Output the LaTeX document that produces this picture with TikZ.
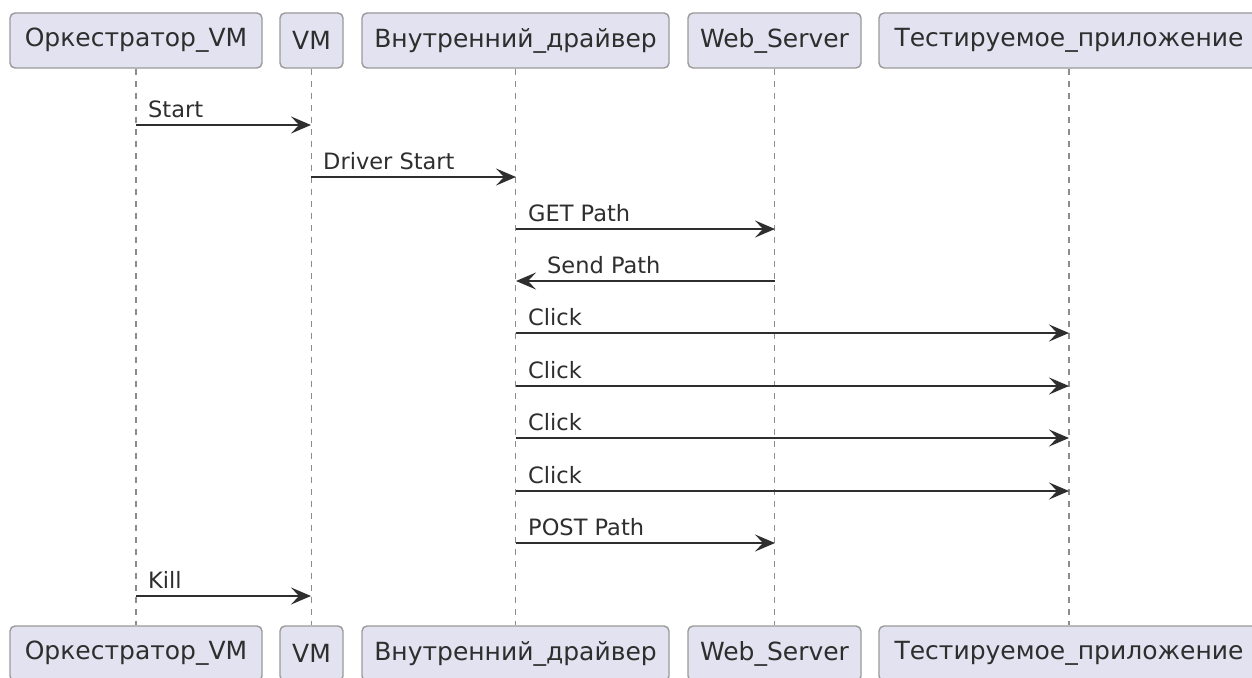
\documentclass[tikz,border=0pt]{standalone}
\usepackage{fontspec}
\setmainfont{DejaVu Sans}
\usetikzlibrary{arrows.meta}
\definecolor{boxfill}{HTML}{E2E2F0}
\definecolor{boxdraw}{HTML}{9A9A9A}
\definecolor{ink}{HTML}{2E2E2E}
\definecolor{lifeln}{HTML}{8C8C8C}
\tikzset{
  part/.style={draw=boxdraw, line width=1.4pt, fill=boxfill, rounded corners=5pt,
    minimum height=55pt, inner xsep=0pt, text=ink, font=\fontsize{25}{30}\selectfont},
  life/.style={draw=lifeln, line width=1.4pt, dash pattern=on 6pt off 6pt},
  msg/.style={draw=ink, line width=1.7pt, -{Stealth[length=20pt, width=17pt, inset=8pt]}},
  lbl/.style={text=ink, inner sep=0pt, anchor=base west, font=\fontsize{22.5}{27}\selectfont}
}
\begin{document}
\begin{tikzpicture}[x=1pt,y=1pt]
\useasboundingbox[fill=white] (0,0) rectangle (1252,-677);
% top participants
\node[part, minimum width=252pt] (tO) at (136,-40.5) {Оркестратор\_VM};
\node[part, minimum width=63pt]  (tV) at (311.5,-40.5) {VM};
\node[part, minimum width=307pt] (tD) at (515.5,-40.5) {Внутренний\_драйвер};
\node[part, minimum width=173pt] (tW) at (774.5,-40.5) {Web\_Server};
\node[part, minimum width=380pt] (tT) at (1069,-40.5) {Тестируемое\_приложение};
% bottom participants
\node[part, minimum width=252pt] (bO) at (136,-653.5) {Оркестратор\_VM};
\node[part, minimum width=63pt]  (bV) at (311.5,-653.5) {VM};
\node[part, minimum width=307pt] (bD) at (515.5,-653.5) {Внутренний\_драйвер};
\node[part, minimum width=173pt] (bW) at (774.5,-653.5) {Web\_Server};
\node[part, minimum width=380pt] (bT) at (1069,-653.5) {Тестируемое\_приложение};
% lifelines
\draw[life] (tO.south) -- (bO.north);
\draw[life] (tV.south) -- (bV.north);
\draw[life] (tD.south) -- (bD.north);
\draw[life] (tW.south) -- (bW.north);
\draw[life] (tT.south) -- (bT.north);
% message endpoints
\coordinate (m1a) at (136,-125);   \coordinate (m1b) at (311,-125);
\coordinate (m2a) at (311,-177);   \coordinate (m2b) at (516,-177);
\coordinate (m3a) at (516,-229);   \coordinate (m3b) at (775,-229);
\coordinate (m4a) at (775,-281);   \coordinate (m4b) at (516,-281);
\coordinate (m5a) at (516,-333);   \coordinate (m5b) at (1069,-333);
\coordinate (m6a) at (516,-386);   \coordinate (m6b) at (1069,-386);
\coordinate (m7a) at (516,-438);   \coordinate (m7b) at (1069,-438);
\coordinate (m8a) at (516,-491);   \coordinate (m8b) at (1069,-491);
\coordinate (m9a) at (516,-543);   \coordinate (m9b) at (775,-543);
\coordinate (m10a) at (136,-596);  \coordinate (m10b) at (311,-596);
% messages
\draw[msg] (m1a) -- (m1b);  \node[lbl] (l1) at (148,-117) {Start};
\draw[msg] (m2a) -- (m2b);  \node[lbl] (l2) at (323,-169) {Driver Start};
\draw[msg] (m3a) -- (m3b);  \node[lbl] (l3) at (528,-221) {GET Path};
\draw[msg] (m4a) -- (m4b);  \node[lbl] (l4) at (547,-273) {Send Path};
\draw[msg] (m5a) -- (m5b);  \node[lbl] (l5) at (528,-325) {Click};
\draw[msg] (m6a) -- (m6b);  \node[lbl] (l6) at (528,-378) {Click};
\draw[msg] (m7a) -- (m7b);  \node[lbl] (l7) at (528,-430) {Click};
\draw[msg] (m8a) -- (m8b);  \node[lbl] (l8) at (528,-483) {Click};
\draw[msg] (m9a) -- (m9b);  \node[lbl] (l9) at (528,-535) {POST Path};
\draw[msg] (m10a) -- (m10b); \node[lbl] (l10) at (148,-588) {Kill};
\end{tikzpicture}
\end{document}
